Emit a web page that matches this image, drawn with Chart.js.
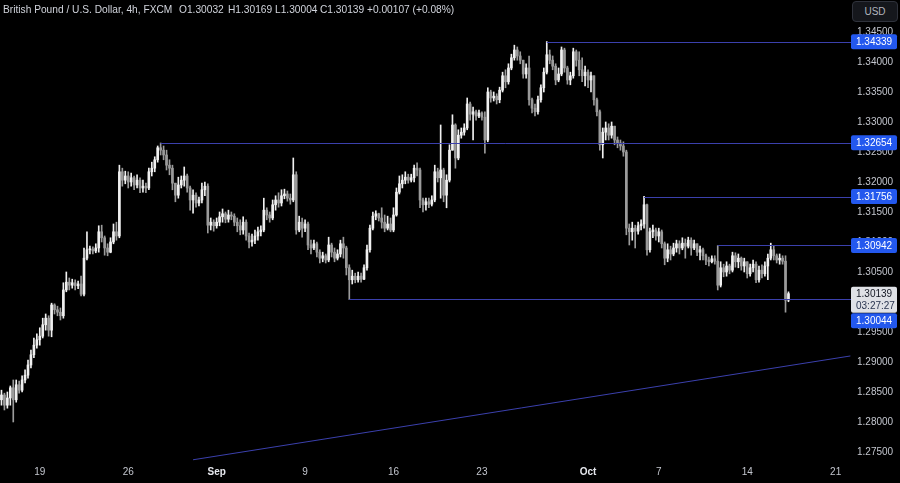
<!DOCTYPE html>
<html>
<head>
<meta charset="utf-8">
<script src="https://cdn.jsdelivr.net/npm/chart.js@4.4.1/dist/chart.umd.min.js"></script>
<style>
  html, body { margin: 0; padding: 0; background: #000; }
  #wrap { position: relative; width: 900px; height: 483px; overflow: hidden; }
  canvas { display: block; }
  .hdr { position: absolute; top: 4px; font: 10.2px "Liberation Sans", Arial, sans-serif; color: #d1d4dc; white-space: nowrap; }
  #usd { position: absolute; left: 852px; top: 1px; width: 44px; height: 19px; border: 1px solid #2f323b; border-radius: 4px;
         background: #15171c; color: #b2b5be; font: 10px "Liberation Sans", Arial, sans-serif; line-height: 19px; text-align: center; }
</style>
</head>
<body>
<div id="wrap">
  <canvas id="gbpChart" width="900" height="483"></canvas>
  <div class="hdr" style="left:3px">British Pound / U.S. Dollar, 4h, FXCM</div>
  <div class="hdr" style="left:179px">O1.30032</div>
  <div class="hdr" style="left:228px">H1.30169</div>
  <div class="hdr" style="left:275px">L1.30004</div>
  <div class="hdr" style="left:320px">C1.30139</div>
  <div class="hdr" style="left:367px">+0.00107 (+0.08%)</div>
  <div id="usd">USD</div>
</div>
<script>
// 4h candles, GBP/USD, mid Aug -> 16 Oct
const open = [
  1.2837,1.2845,1.2828,1.2840,1.2857,1.2837,1.2862,1.2853,1.2870,1.2878,
  1.2895,1.2912,1.2928,1.2937,1.2943,1.2962,1.2973,1.2953,1.2995,1.2987,
  1.2983,1.2977,1.3020,1.3033,1.3028,1.3032,1.3027,1.3030,1.3013,1.3073,
  1.3087,1.3088,1.3085,1.3090,1.3117,1.3107,1.3090,1.3083,1.3100,1.3117,
  1.3110,1.3217,1.3203,1.3210,1.3200,1.3207,1.3195,1.3203,1.3190,1.3193,
  1.3190,1.3217,1.3223,1.3237,1.3257,1.3253,1.3245,1.3228,1.3223,1.3198,
  1.3178,1.3195,1.3203,1.3210,1.3190,1.3170,1.3178,1.3165,1.3170,1.3187,
  1.3193,1.3128,1.3133,1.3127,1.3133,1.3142,1.3147,1.3138,1.3145,1.3143,
  1.3133,1.3127,1.3120,1.3133,1.3110,1.3100,1.3103,1.3110,1.3117,1.3120,
  1.3153,1.3145,1.3140,1.3162,1.3170,1.3165,1.3177,1.3180,1.3173,1.3170,
  1.3212,1.3120,1.3133,1.3123,1.3130,1.3095,1.3090,1.3097,1.3083,1.3073,
  1.3077,1.3070,1.3095,1.3083,1.3073,1.3080,1.3097,1.3090,1.3057,1.3037,
  1.3043,1.3037,1.3043,1.3038,1.3057,1.3087,1.3123,1.3143,1.3147,1.3140,
  1.3133,1.3123,1.3130,1.3120,1.3145,1.3183,1.3197,1.3203,1.3208,1.3203,
  1.3207,1.3223,1.3220,1.3170,1.3162,1.3167,1.3163,1.3170,1.3217,1.3207,
  1.3220,1.3178,1.3203,1.3253,1.3295,1.3240,1.3278,1.3283,1.3290,1.3330,
  1.3313,1.3317,1.3310,1.3315,1.3308,1.3270,1.3350,1.3340,1.3343,1.3337,
  1.3353,1.3377,1.3367,1.3390,1.3407,1.3420,1.3410,1.3403,1.3380,1.3390,
  1.3337,1.3323,1.3317,1.3337,1.3357,1.3383,1.3412,1.3403,1.3393,1.3370,
  1.3380,1.3420,1.3390,1.3370,1.3377,1.3417,1.3403,1.3387,1.3377,1.3383,
  1.3370,1.3377,1.3337,1.3317,1.3262,1.3283,1.3290,1.3278,1.3293,1.3270,
  1.3265,1.3260,1.3250,1.3123,1.3117,1.3123,1.3118,1.3127,1.3130,1.3162,
  1.3087,1.3117,1.3120,1.3110,1.3117,1.3097,1.3073,1.3087,1.3080,1.3090,
  1.3097,1.3090,1.3098,1.3093,1.3103,1.3090,1.3097,1.3083,1.3087,1.3077,
  1.3070,1.3067,1.3072,1.3068,1.3028,1.3057,1.3050,1.3060,1.3053,1.3077,
  1.3067,1.3073,1.3060,1.3067,1.3047,1.3057,1.3063,1.3037,1.3053,1.3047,
  1.3060,1.3073,1.3087,1.3077,1.3070,1.3073,1.3068,1.30032
];
const high = [
  1.2853,1.2848,1.2850,1.2860,1.2870,1.2870,1.2868,1.2877,1.2887,1.2903,
  1.2920,1.2940,1.2947,1.2957,1.2973,1.2980,1.2977,1.2998,1.2997,1.2993,
  1.2990,1.3032,1.3050,1.3040,1.3038,1.3037,1.3035,1.3043,1.3090,1.3117,
  1.3093,1.3092,1.3097,1.3127,1.3128,1.3110,1.3097,1.3107,1.3130,1.3133,
  1.3228,1.3223,1.3218,1.3217,1.3215,1.3210,1.3212,1.3207,1.3203,1.3198,
  1.3223,1.3233,1.3242,1.3260,1.3265,1.3260,1.3253,1.3237,1.3228,1.3198,
  1.3208,1.3210,1.3225,1.3213,1.3193,1.3187,1.3182,1.3175,1.3198,1.3200,
  1.3197,1.3140,1.3137,1.3140,1.3150,1.3155,1.3150,1.3153,1.3150,1.3147,
  1.3140,1.3137,1.3142,1.3137,1.3115,1.3113,1.3120,1.3125,1.3127,1.3173,
  1.3157,1.3150,1.3170,1.3177,1.3182,1.3187,1.3188,1.3185,1.3180,1.3240,
  1.3217,1.3143,1.3140,1.3137,1.3133,1.3103,1.3103,1.3100,1.3087,1.3083,
  1.3080,1.3108,1.3098,1.3090,1.3087,1.3103,1.3108,1.3093,1.3062,1.3053,
  1.3048,1.3050,1.3048,1.3062,1.3095,1.3128,1.3150,1.3152,1.3148,1.3157,
  1.3145,1.3143,1.3140,1.3157,1.3190,1.3210,1.3212,1.3217,1.3213,1.3213,
  1.3228,1.3232,1.3223,1.3173,1.3173,1.3173,1.3177,1.3228,1.3223,1.3295,
  1.3223,1.3212,1.3262,1.3312,1.3297,1.3287,1.3290,1.3297,1.3340,1.3333,
  1.3325,1.3320,1.3320,1.3317,1.3317,1.3357,1.3353,1.3350,1.3347,1.3358,
  1.3383,1.3387,1.3397,1.3413,1.3428,1.3425,1.3417,1.3403,1.3397,1.3410,
  1.3340,1.3330,1.3343,1.3362,1.3390,1.3434,1.3420,1.3410,1.3397,1.3390,
  1.3425,1.3423,1.3393,1.3383,1.3423,1.3420,1.3417,1.3407,1.3393,1.3387,
  1.3383,1.3377,1.3340,1.3320,1.3290,1.3300,1.3297,1.3300,1.3293,1.3275,
  1.3270,1.3267,1.3253,1.3130,1.3133,1.3128,1.3133,1.3137,1.3176,1.3163,
  1.3123,1.3128,1.3123,1.3123,1.3120,1.3100,1.3097,1.3093,1.3098,1.3103,
  1.3102,1.3107,1.3105,1.3108,1.3107,1.3103,1.3097,1.3093,1.3090,1.3080,
  1.3075,1.3077,1.3077,1.3094,1.3067,1.3063,1.3067,1.3063,1.3083,1.3082,
  1.3080,1.3075,1.3073,1.3067,1.3063,1.3070,1.3067,1.3060,1.3062,1.3067,
  1.3080,1.3098,1.3093,1.3080,1.3080,1.3077,1.3077,1.30169
];
const low = [
  1.2828,1.2820,1.2823,1.2828,1.2800,1.2833,1.2848,1.2850,1.2865,1.2873,
  1.2890,1.2907,1.2923,1.2928,1.2940,1.2953,1.2943,1.2942,1.2980,1.2977,
  1.2970,1.2973,1.3017,1.3020,1.3023,1.3020,1.3022,1.3010,1.3010,1.3070,
  1.3080,1.3080,1.3082,1.3083,1.3100,1.3078,1.3077,1.3082,1.3097,1.3103,
  1.3107,1.3193,1.3197,1.3190,1.3193,1.3187,1.3190,1.3182,1.3183,1.3182,
  1.3187,1.3210,1.3217,1.3233,1.3245,1.3237,1.3220,1.3212,1.3187,1.3167,
  1.3173,1.3190,1.3193,1.3183,1.3153,1.3148,1.3158,1.3160,1.3165,1.3177,
  1.3115,1.3120,1.3118,1.3123,1.3127,1.3133,1.3132,1.3133,1.3137,1.3127,
  1.3117,1.3112,1.3113,1.3103,1.3090,1.3093,1.3097,1.3103,1.3110,1.3117,
  1.3137,1.3133,1.3137,1.3153,1.3158,1.3160,1.3172,1.3168,1.3163,1.3167,
  1.3113,1.3117,1.3108,1.3117,1.3087,1.3080,1.3087,1.3075,1.3065,1.3067,
  1.3065,1.3067,1.3075,1.3067,1.3070,1.3075,1.3073,1.3045,1.3004,1.3030,
  1.3032,1.3033,1.3033,1.3037,1.3053,1.3083,1.3120,1.3137,1.3135,1.3123,
  1.3117,1.3120,1.3117,1.3117,1.3143,1.3180,1.3190,1.3197,1.3198,1.3200,
  1.3200,1.3210,1.3157,1.3150,1.3153,1.3157,1.3160,1.3167,1.3200,1.3173,
  1.3167,1.3157,1.3200,1.3253,1.3223,1.3237,1.3273,1.3278,1.3287,1.3303,
  1.3270,1.3303,1.3307,1.3303,1.3248,1.3267,1.3333,1.3335,1.3330,1.3332,
  1.3350,1.3357,1.3363,1.3387,1.3403,1.3403,1.3397,1.3373,1.3373,1.3328,
  1.3315,1.3310,1.3313,1.3333,1.3350,1.3380,1.3397,1.3387,1.3362,1.3367,
  1.3377,1.3383,1.3363,1.3362,1.3373,1.3393,1.3377,1.3367,1.3360,1.3357,
  1.3350,1.3328,1.3310,1.3253,1.3240,1.3270,1.3270,1.3273,1.3262,1.3257,
  1.3253,1.3243,1.3112,1.3095,1.3103,1.3090,1.3113,1.3120,1.3123,1.3078,
  1.3083,1.3107,1.3103,1.3100,1.3090,1.3062,1.3067,1.3070,1.3077,1.3083,
  1.3080,1.3087,1.3073,1.3090,1.3078,1.3087,1.3077,1.3070,1.3070,1.3062,
  1.3060,1.3065,1.3063,1.3020,1.3025,1.3042,1.3043,1.3047,1.3050,1.3058,
  1.3057,1.3053,1.3050,1.3040,1.3043,1.3050,1.3032,1.3033,1.3040,1.3043,
  1.3037,1.3070,1.3070,1.3065,1.3063,1.3063,1.2983,1.30004
];
const close = [
  1.2845,1.2828,1.2840,1.2857,1.2837,1.2862,1.2853,1.2870,1.2878,1.2895,
  1.2912,1.2928,1.2937,1.2943,1.2962,1.2973,1.2953,1.2995,1.2987,1.2983,
  1.2977,1.3020,1.3033,1.3028,1.3032,1.3027,1.3030,1.3013,1.3073,1.3087,
  1.3088,1.3085,1.3090,1.3117,1.3107,1.3090,1.3083,1.3100,1.3117,1.3110,
  1.3217,1.3203,1.3210,1.3200,1.3207,1.3195,1.3203,1.3190,1.3193,1.3190,
  1.3217,1.3223,1.3237,1.3257,1.3253,1.3245,1.3228,1.3223,1.3198,1.3178,
  1.3195,1.3203,1.3210,1.3190,1.3170,1.3178,1.3165,1.3170,1.3187,1.3193,
  1.3128,1.3133,1.3127,1.3133,1.3142,1.3147,1.3138,1.3145,1.3143,1.3133,
  1.3127,1.3120,1.3133,1.3110,1.3100,1.3103,1.3110,1.3117,1.3120,1.3153,
  1.3145,1.3140,1.3162,1.3170,1.3165,1.3177,1.3180,1.3173,1.3170,1.3212,
  1.3120,1.3133,1.3123,1.3130,1.3095,1.3090,1.3097,1.3083,1.3073,1.3077,
  1.3070,1.3095,1.3083,1.3073,1.3080,1.3097,1.3090,1.3057,1.3037,1.3043,
  1.3037,1.3043,1.3038,1.3057,1.3087,1.3123,1.3143,1.3147,1.3140,1.3133,
  1.3123,1.3130,1.3120,1.3145,1.3183,1.3197,1.3203,1.3208,1.3203,1.3207,
  1.3223,1.3220,1.3170,1.3162,1.3167,1.3163,1.3170,1.3217,1.3207,1.3220,
  1.3178,1.3203,1.3253,1.3295,1.3240,1.3278,1.3283,1.3290,1.3330,1.3313,
  1.3317,1.3310,1.3315,1.3308,1.3270,1.3350,1.3340,1.3343,1.3337,1.3353,
  1.3377,1.3367,1.3390,1.3407,1.3420,1.3410,1.3403,1.3380,1.3390,1.3337,
  1.3323,1.3317,1.3337,1.3357,1.3383,1.3412,1.3403,1.3393,1.3370,1.3380,
  1.3420,1.3390,1.3370,1.3377,1.3417,1.3403,1.3387,1.3377,1.3383,1.3370,
  1.3377,1.3337,1.3317,1.3262,1.3283,1.3290,1.3278,1.3293,1.3270,1.3265,
  1.3260,1.3250,1.3123,1.3117,1.3123,1.3118,1.3127,1.3130,1.3162,1.3087,
  1.3117,1.3120,1.3110,1.3117,1.3097,1.3073,1.3087,1.3080,1.3090,1.3097,
  1.3090,1.3098,1.3093,1.3103,1.3090,1.3097,1.3083,1.3087,1.3077,1.3070,
  1.3067,1.3072,1.3068,1.3028,1.3057,1.3050,1.3060,1.3053,1.3077,1.3067,
  1.3073,1.3060,1.3067,1.3047,1.3057,1.3063,1.3037,1.3053,1.3047,1.3060,
  1.3073,1.3087,1.3077,1.3070,1.3073,1.3068,1.3003,1.30139
];

// time axis: 286 slots (candles + empty space on the right)
const slotCount = 286;
const tickIndex = [13, 43, 73, 103, 133, 163, 199, 223, 253, 283];
const tickText = ['19', '26', 'Sep', '9', '16', '23', 'Oct', '7', '14', '21'];
const monthTicks = ['Sep', 'Oct'];

// price axis
const priceTicks = [1.275, 1.28, 1.285, 1.29, 1.295, 1.3, 1.305, 1.31, 1.315, 1.32, 1.325, 1.33, 1.335, 1.34, 1.345];
const priceMin = 1.27333;
const priceMax = 1.35033;

// drawn levels: price and the candle where the ray starts
const levelPrice = [1.34339, 1.32654, 1.31756, 1.30942, 1.30044];
const levelFrom = [185, 54, 218, 243, 118];
// rising trend line (two anchor points: slot index, price)
const trendIndex = [65, 288];
const trendPrice = [1.2737, 1.2910];

const lastPrice = 1.30139;
const countdown = '03:27:27';

const upColor = '#f0f0f0';
const downColor = '#9b9b9b';
const lineColor = '#3b40ad';
const boxColor = '#2358ee';
const axisText = '#c3c6ce';
const fontFamily = '"Liberation Sans", Arial, sans-serif';

const slots = Array.from({ length: slotCount }, (_, i) => String(i));
const candleColor = close.map((c, i) => (c >= open[i] ? upColor : downColor));

const drawings = {
  id: 'drawings',
  afterDatasetsDraw(chart) {
    const { ctx, scales: { x, y }, chartArea } = chart;
    ctx.save();
    ctx.strokeStyle = lineColor;
    ctx.lineWidth = 1;
    levelPrice.forEach((p, k) => {
      const py = Math.round(y.getPixelForValue(p)) + 0.5;
      ctx.beginPath();
      ctx.moveTo(x.getPixelForValue(levelFrom[k]), py);
      ctx.lineTo(chartArea.right + 8, py);
      ctx.stroke();
    });
    ctx.beginPath();
    ctx.moveTo(x.getPixelForValue(trendIndex[0]), y.getPixelForValue(trendPrice[0]));
    ctx.lineTo(x.getPixelForValue(trendIndex[1]), y.getPixelForValue(trendPrice[1]));
    ctx.stroke();
    ctx.restore();
  },
  afterDraw(chart) {
    const { ctx, scales: { y }, chartArea } = chart;
    const bx = chartArea.right + 8;
    const bw = 46;
    ctx.save();
    ctx.font = '10px ' + fontFamily;
    ctx.textBaseline = 'middle';
    ctx.textAlign = 'left';

    // last price + countdown
    const ly = y.getPixelForValue(lastPrice);
    const lastTop = ly - 7;
    const lastBottom = ly + 19;
    ctx.fillStyle = '#dfe1e6';
    ctx.beginPath();
    ctx.roundRect(bx, lastTop, bw, lastBottom - lastTop, 2);
    ctx.fill();
    ctx.fillStyle = '#131722';
    ctx.fillText(lastPrice.toFixed(5), bx + 5, ly + 0.5);
    ctx.fillStyle = '#2a3550';
    ctx.fillText(countdown, bx + 5, ly + 12.5);

    levelPrice.forEach((p) => {
      let cy = y.getPixelForValue(p);
      if (cy + 7 > lastTop && cy - 7 < lastBottom) cy = lastBottom + 8;
      ctx.fillStyle = boxColor;
      ctx.beginPath();
      ctx.roundRect(bx, cy - 7.5, bw, 15, 2);
      ctx.fill();
      ctx.fillStyle = '#ffffff';
      ctx.fillText(p.toFixed(5), bx + 5, cy + 0.5);
    });
    ctx.restore();
  }
};

const ctx = document.getElementById('gbpChart').getContext('2d');
new Chart(ctx, {
  type: 'bar',
  data: {
    labels: slots,
    datasets: [
      {
        label: 'wick',
        data: low.map((l, i) => [l, high[i]]),
        backgroundColor: candleColor,
        barThickness: 1,
        grouped: false,
        borderWidth: 0,
      },
      {
        label: 'body',
        data: open.map((o, i) => [o, close[i]]),
        backgroundColor: candleColor,
        barThickness: 2,
        minBarLength: 1,
        grouped: false,
        borderWidth: 0,
      },
    ],
  },
  options: {
    responsive: false,
    animation: false,
    devicePixelRatio: 1,
    events: [],
    layout: { padding: 0 },
    plugins: { legend: { display: false }, tooltip: { enabled: false } },
    scales: {
      x: {
        grid: { display: false, drawTicks: false },
        border: { display: false },
        afterBuildTicks: (s) => { s.ticks = tickIndex.map((v) => ({ value: v })); },
        afterFit: (s) => { s.height = 21; s.paddingLeft = 0; s.paddingRight = 0; },
        ticks: {
          autoSkip: false,
          maxRotation: 0,
          minRotation: 0,
          padding: 4,
          callback: (v, i) => tickText[i],
          color: (c) => (monthTicks.includes(tickText[c.index]) ? '#e6e8ee' : axisText),
          font: (c) => ({ family: fontFamily, size: 10, weight: monthTicks.includes(tickText[c.index]) ? 'bold' : 'normal' }),
        },
      },
      y: {
        position: 'right',
        min: priceMin,
        max: priceMax,
        grid: { display: false, drawTicks: false },
        border: { display: false },
        afterBuildTicks: (s) => { s.ticks = priceTicks.map((v) => ({ value: v })); },
        afterFit: (s) => { s.width = 57; s.paddingTop = 0; s.paddingBottom = 0; },
        ticks: {
          padding: 14,
          color: axisText,
          font: { family: fontFamily, size: 10 },
          callback: (v) => Number(v).toFixed(5),
        },
      },
    },
  },
  plugins: [drawings],
});
</script>
</body>
</html>
